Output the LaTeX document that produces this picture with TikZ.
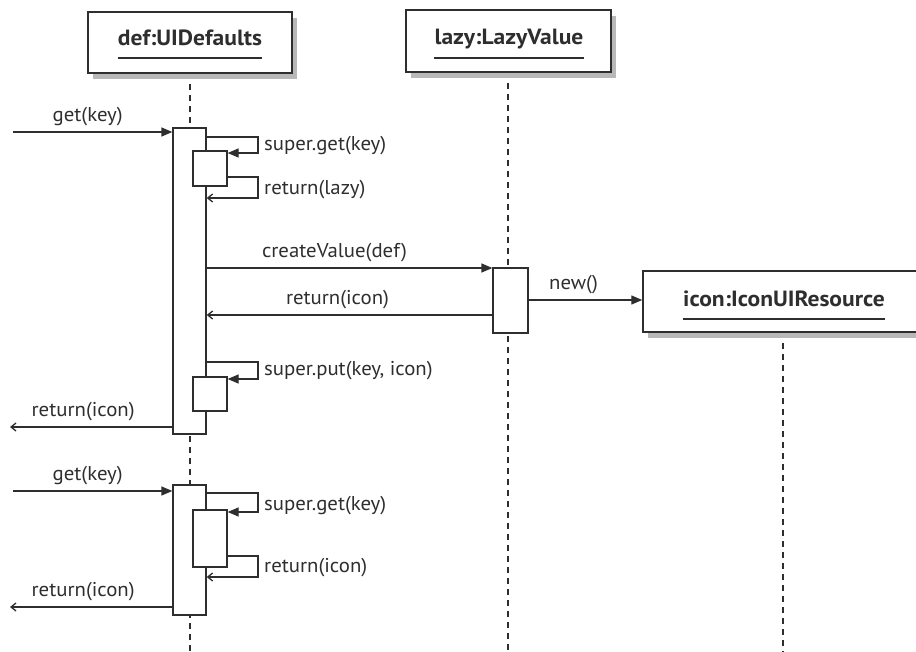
\documentclass[tikz,border=0pt]{standalone}
\usepackage{fontspec}
\setmainfont{PT Sans}
\newfontfamily\lblfont{PT Sans}[FakeStretch=1.04]
\newfontfamily\ttlfont{PT Sans Bold}[FakeStretch=1.07]
\usetikzlibrary{arrows.meta}
\definecolor{ink}{gray}{0.18}
\tikzset{
  objbox/.style={draw=ink, line width=1.4pt, fill=white, inner sep=0pt},
  shade/.style={fill=black!28, draw=none},
  titletext/.style={font=\ttlfont\fontsize{22}{24}\selectfont, inner sep=0pt, text=ink},
  uline/.style={line width=2.4pt, draw=ink},
  act/.style={draw=ink, line width=1.3pt, fill=white, inner sep=0pt},
  msg/.style={line width=1.3pt, draw=ink, -{Triangle[length=11pt,width=9pt]}},
  ret/.style={line width=1.3pt, draw=ink, -{Straight Barb[length=5pt,width=8pt]}},
  life/.style={dash pattern=on 6pt off 5pt, line width=1.2pt, draw=ink},
  lbl/.style={font=\lblfont\fontsize{20}{22}\selectfont, inner sep=0pt, text=ink},
}
\begin{document}
\begin{tikzpicture}[x=1pt,y=-1pt]
\useasboundingbox (0,0) rectangle (916,652);

% lifelines
\coordinate (defTop) at (190,73);
\coordinate (defBot) at (190,652);
\coordinate (lazyTop) at (508,72);
\coordinate (lazyBot) at (508,652);
\coordinate (iconTop) at (783,332);
\coordinate (iconBot) at (783,652);
\draw[life] (defTop) -- (defBot);
\draw[life] (lazyTop) -- (lazyBot);
\draw[life] (iconTop) -- (iconBot);

% object boxes with shadows
\fill[shade] (93,18) rectangle (297,79);
\node[objbox, minimum width=204pt, minimum height=61pt] (def) at (190,42.5) {};
\node[titletext, anchor=base] (defT) at (190,46) {def:UIDefaults};
\draw[uline] ([yshift=-12pt]defT.base west) -- ([yshift=-12pt]defT.base east);

\fill[shade] (411,16) rectangle (616,78);
\node[objbox, minimum width=205pt, minimum height=62pt] (lazy) at (508.5,41) {};
\node[titletext, anchor=base] (lazyT) at (509,45) {lazy:LazyValue};
\draw[uline] ([yshift=-13pt]lazyT.base west) -- ([yshift=-13pt]lazyT.base east);

\fill[shade] (648,277) rectangle (930,338);
\node[objbox, minimum width=282pt, minimum height=61pt] (icon) at (784,301.5) {};
\node[titletext, anchor=base] (iconT) at (784,307) {icon:IconUIResource};
\draw[uline] ([yshift=-12pt]iconT.base west) -- ([yshift=-12pt]iconT.base east);

% activation bars, first call
\node[act, minimum width=33pt, minimum height=306pt] (bar1) at (189.5,281) {};
\node[act, minimum width=34pt, minimum height=35pt] (in1) at (210,168.5) {};
\node[act, minimum width=34pt, minimum height=34pt] (in2) at (210,394) {};
\node[act, minimum width=35pt, minimum height=65pt] (lbar) at (510.5,300.5) {};

% activation bars, second call
\node[act, minimum width=33pt, minimum height=130pt] (bar2) at (189.5,550) {};
\node[act, minimum width=34pt, minimum height=57pt] (in3) at (210,538.5) {};

% free ends
\coordinate (startA) at (13,132);
\coordinate (endA) at (10,427);
\coordinate (startB) at (13,491);
\coordinate (endB) at (10,607);

% first call messages
\draw[msg] (startA) -- (bar1.west |- startA) node[lbl, midway, above=5pt, xshift=-5pt] {get(key)};
\draw[msg] (bar1.east |- 0,137) -| (258,153) -- (in1.east |- 0,153);
\node[lbl, anchor=base west] (l1) at (264,151) {super.get(key)};
\draw[ret] (in1.east |- 0,177) -| (258,198) -- (bar1.east |- 0,198);
\node[lbl, anchor=base west] (l2) at (264,195) {return(lazy)};

\draw[msg] (bar1.east |- 0,268) -- (lbar.west |- 0,268) node[lbl, midway, above=5pt, xshift=-15pt] {createValue(def)};
\draw[ret] (lbar.west |- 0,315) -- (bar1.east |- 0,315) node[lbl, midway, above=5pt, xshift=-12pt] {return(icon)};
\draw[msg] (lbar.east |- 0,300) -- (icon.west |- 0,300) node[lbl, midway, above=5pt, xshift=-12pt] {new()};

\draw[msg] (bar1.east |- 0,362) -| (258,379) -- (in2.east |- 0,379);
\node[lbl, anchor=base west] (l3) at (264,376) {super.put(key, icon)};
\draw[ret] (bar1.west |- 0,427) -- (endA) node[lbl, midway, above=5pt, xshift=-8pt] {return(icon)};

% second call messages
\draw[msg] (startB) -- (bar2.west |- startB) node[lbl, midway, above=5pt, xshift=-5pt] {get(key)};
\draw[msg] (bar2.east |- 0,493) -| (258,512) -- (in3.east |- 0,512);
\node[lbl, anchor=base west] (l4) at (264,510) {super.get(key)};
\draw[ret] (in3.east |- 0,556) -| (258,577) -- (bar2.east |- 0,577);
\node[lbl, anchor=base west] (l5) at (264,572) {return(icon)};
\draw[ret] (bar2.west |- 0,607) -- (endB) node[lbl, midway, above=5pt, xshift=-8pt] {return(icon)};
\end{tikzpicture}
\end{document}
